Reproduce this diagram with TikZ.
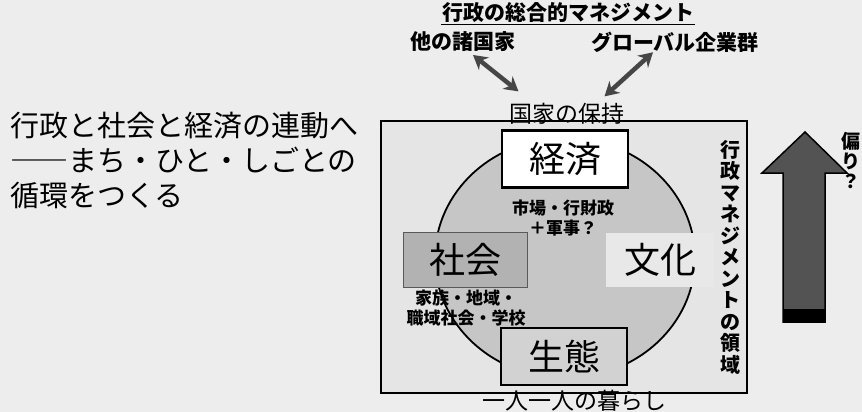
\documentclass[tikz,border=0pt]{standalone}
\usepackage{fontspec}
\setmainfont{Noto Sans CJK JP}
\usetikzlibrary{arrows.meta,calc,shapes.geometric}
\begin{document}
\begin{tikzpicture}[x=1pt,y=-1pt,
  every node/.style={inner sep=0pt,outer sep=0pt},
  bigbox/.style={draw,line width=2.5pt,minimum width=126pt,minimum height=57pt,font=\fontsize{36}{40}\selectfont},
  small/.style={align=center,font=\bfseries\fontsize{17}{20}\selectfont},
  dbl/.style={line width=4.5pt,draw=gray!55!black,arrows={Stealth[length=14pt,width=16pt]-Stealth[length=14pt,width=16pt]}},
  vert/.style={anchor=north,align=center,font=\bfseries\fontsize{20}{21.5}\selectfont}]
\useasboundingbox (0,0) rectangle (862,412);
\fill[gray!14] (0,0) rectangle (862,412);
% left lead text
\node[anchor=north west,align=left,font=\fontsize{29}{35}\selectfont] (lead) at (10,112)
  {行政と社会と経済の連動へ\\――まち・ひと・しごとの\\循環をつくる};
% top
\node[font=\bfseries\fontsize{21}{23}\selectfont,inner sep=1pt] (title) at (568,13) {行政の総合的マネジメント};
\draw[line width=1pt] (title.south west) -- (title.south east);
\node[font=\bfseries\fontsize{21}{23}\selectfont] (others) at (463,42) {他の諸国家};
\node[font=\bfseries\fontsize{21}{23}\selectfont] (globals) at (675,42) {グローバル企業群};
% area
\node[draw,line width=2.5pt,fill=gray!20,minimum width=366pt,minimum height=272pt,anchor=north west] (area) at (381,121) {};
\node[ellipse,draw,line width=1.8pt,fill=gray!45,minimum width=260pt,minimum height=240pt] (cycle) at (565,258) {};
\node[font=\fontsize{23}{25}\selectfont] (kokka) at (567,114) {国家の保持};
\draw[dbl] ($(others.south)+(10,3)$) -- ($(kokka.north west)+(9,-12)$);
\draw[dbl] ($(globals.south)+(-22,0)$) -- ($(kokka.north east)+(-20,-7)$);
\node[bigbox,fill=white] (keizai) at (565,159) {経済};
\node[bigbox,fill=gray!60,draw=gray!70!black,line width=1pt,minimum width=124pt,minimum height=55pt] (shakai) at (465,259.5) {社会};
\node[bigbox,fill=gray!18,draw=none,minimum width=108pt,minimum height=54pt] (bunka) at (660,260) {文化};
\node[bigbox,fill=gray!35] (seitai) at (564,356.5) {生態};
\node[small] (market) at (563,218) {市場・行財政\\＋軍事？};
\node[small] (family) at (466,308) {家族・地域・\\職域社会・学校};
\node[font=\fontsize{23}{25}\selectfont] (kurashi) at (574,401) {一人一人の暮らし};
\node[vert] (ryoiki) at (730,140) {行\\政\\マ\\ネ\\ジ\\メ\\ン\\ト\\の\\領\\域};
% big arrow
\draw[line width=1.5pt,fill=gray!65!black] (805,132) -- (847,173) -- (825,173) -- (825,322) -- (783,322) -- (783,173) -- (762,173) -- cycle;
\fill (783,309) rectangle (825,322);
\node[vert,font=\bfseries\fontsize{19}{20}\selectfont] (bias) at (851,132) {偏\\り\\？};
\end{tikzpicture}
\end{document}
